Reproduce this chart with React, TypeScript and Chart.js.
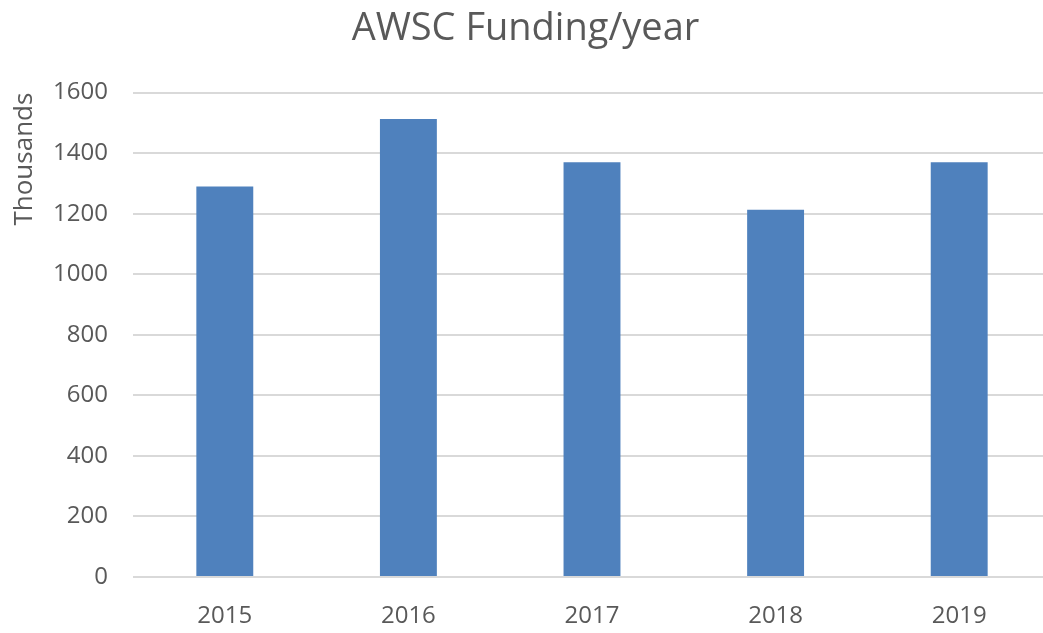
import React, { useEffect, useRef } from "react";
import { Chart, registerables } from "chart.js";

Chart.register(...registerables);

const categories = ["2015", "2016", "2017", "2018", "2019"];
const funding = [1290, 1513, 1370, 1213, 1370];
const yTitle = "Thousands";
const chartTitle = "AWSC Funding/year";

const FONT = "'Open Sans', sans-serif";
const TEXT = "#595959";

export default function App() {
  const ref = useRef<HTMLCanvasElement | null>(null);

  useEffect(() => {
    if (!ref.current) return;
    const chart = new Chart(ref.current, {
      type: "bar",
      data: {
        labels: categories,
        datasets: [
          {
            label: "Funding",
            data: funding,
            backgroundColor: "#4F81BD",
            borderWidth: 0,
            barPercentage: 0.31,
            categoryPercentage: 1,
          },
        ],
      },
      options: {
        responsive: false,
        animation: false,
        layout: { padding: 0 },
        plugins: {
          legend: { display: false },
          tooltip: { enabled: false },
          title: {
            display: true,
            text: chartTitle,
            color: TEXT,
            font: { family: FONT, size: 38, weight: "normal" },
            padding: { top: 6, bottom: 41 },
          },
        },
        scales: {
          x: {
            grid: { display: false, drawTicks: false },
            border: { display: false },
            ticks: {
              color: TEXT,
              font: { family: FONT, size: 24 },
              padding: 25,
              maxRotation: 0,
            },
            afterFit: (s: any) => {
              s.height = 56;
            },
          },
          y: {
            min: 0,
            max: 1600,
            ticks: {
              stepSize: 200,
              color: TEXT,
              font: { family: FONT, size: 24 },
              padding: 25,
              callback: (v: any) => String(v),
            },
            grid: {
              color: "#D9D9D9",
              lineWidth: 2,
              drawTicks: false,
            },
            border: { display: false },
            title: {
              display: true,
              text: yTitle,
              align: "end",
              color: TEXT,
              font: { family: FONT, size: 26 },
              padding: { top: 9, bottom: 0 },
            },
            afterFit: (s: any) => {
              s.width = 133;
            },
          },
        },
      },
    });
    return () => chart.destroy();
  }, []);

  return (
    <div
      style={{
        position: "fixed",
        left: 0,
        top: 0,
        width: 1043,
        height: 633,
        overflow: "hidden",
        background: "#fff",
      }}
    >
      <canvas ref={ref} width={1051} height={633} style={{ display: "block" }} />
    </div>
  );
}
